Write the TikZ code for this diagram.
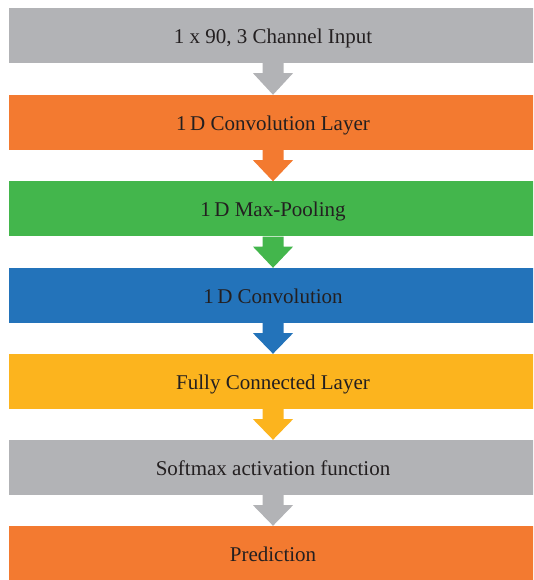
\documentclass[tikz,border=0pt]{standalone}
\usepackage{fontspec}
\setmainfont{Liberation Serif}
\usetikzlibrary{calc}

\definecolor{boxgray}{RGB}{178,179,182}
\definecolor{boxorange}{RGB}{243,122,48}
\definecolor{boxgreen}{RGB}{67,182,76}
\definecolor{boxblue}{RGB}{35,115,186}
\definecolor{boxyellow}{RGB}{252,180,30}
\definecolor{textdark}{RGB}{35,31,32}

\tikzset{
  layerbox/.style={fill=#1, draw=none, minimum width=528pt, minimum height=55pt,
    inner sep=0pt, anchor=center, text=textdark,
    text height=15.5pt, text depth=0pt,
    font=\fontsize{21}{24}\selectfont},
}

% block arrow from the bottom of one box to the top of the next
\newcommand{\flowarrow}[3]{%
  \fill[#3] ($(#1.south)+(-10.5pt,0)$) -- ($(#1.south)+(10.5pt,0)$)
    -- ($(#1.south)+(10.5pt,-10pt)$) -- ($(#1.south)+(20pt,-10pt)$)
    -- (#2.north)
    -- ($(#1.south)+(-20pt,-10pt)$) -- ($(#1.south)+(-10.5pt,-10pt)$) -- cycle;}

\begin{document}
\begin{tikzpicture}[x=1pt,y=1pt]
  \useasboundingbox (0,0) rectangle (533,580);
  \begin{scope}
    \clip (0,0) rectangle (533,580);
    \node[layerbox=boxgray]   (input) at (273,544.5) {1 x 90, 3 Channel Input};
    \node[layerbox=boxorange] (conv1) at (273,457.5) {1\,D Convolution Layer};
    \node[layerbox=boxgreen]  (pool)  at (273,371)   {1\,D Max-Pooling};
    \node[layerbox=boxblue]   (conv2) at (273,284.5) {1\,D Convolution};
    \node[layerbox=boxyellow] (fc)    at (273,198.5) {Fully Connected Layer};
    \node[layerbox=boxgray]   (soft)  at (273,112.5) {Softmax activation function};
    \node[layerbox=boxorange] (pred)  at (273,26.5)  {Prediction};

    \flowarrow{input}{conv1}{boxgray}
    \flowarrow{conv1}{pool}{boxorange}
    \flowarrow{pool}{conv2}{boxgreen}
    \flowarrow{conv2}{fc}{boxblue}
    \flowarrow{fc}{soft}{boxyellow}
    \flowarrow{soft}{pred}{boxgray}
  \end{scope}
\end{tikzpicture}
\end{document}
